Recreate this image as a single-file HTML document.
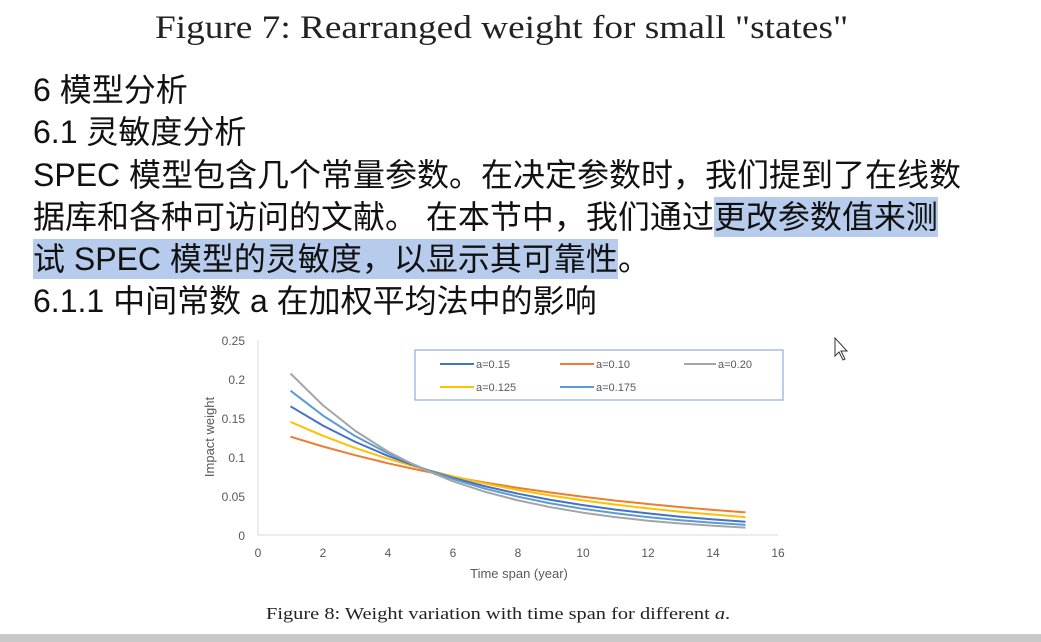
<!DOCTYPE html>
<html><head><meta charset="utf-8"><style>
body{margin:0;width:1041px;height:642px;background:#fff;overflow:hidden;position:relative;font-family:"Liberation Sans","Noto Sans CJK SC",sans-serif;}
.t{position:absolute;white-space:nowrap;}
.cn{font-size:32px;color:#111;left:33px;line-height:40px;}
.h{background:#b7cbec;padding:2px 0;}
</style></head><body>
<div class="t" style="left:155px;top:10px;font-family:'Liberation Serif',serif;font-size:33px;color:#222;transform:scaleX(1.13);transform-origin:0 0;">Figure 7: Rearranged weight for small "states"</div>
<div class="t cn" style="top:70px;">6 模型分析</div>
<div class="t cn" style="top:112px;">6.1 灵敏度分析</div>
<div class="t cn" style="top:155px;">SPEC 模型包含几个常量参数。在决定参数时，我们提到了在线数</div>
<div class="t cn" style="top:197px;">据库和各种可访问的文献。 在本节中，我们通过<span class="h">更改参数值来测</span></div>
<div class="t cn" style="top:239px;"><span class="h">试 SPEC 模型的灵敏度，以显示其可靠性</span>。</div>
<div class="t cn" style="top:281px;">6.1.1 中间常数 a 在加权平均法中的影响</div>
<svg width="1041" height="642" style="position:absolute;left:0;top:0" id="s" font-family="Liberation Sans, sans-serif">
<g stroke="#d9d9d9" stroke-width="1"><line x1="258" y1="340" x2="258" y2="535"/><line x1="258" y1="535" x2="778" y2="535"/></g>
<g font-size="12" fill="#595959" text-anchor="end">
<text x="245" y="345">0.25</text><text x="245" y="384">0.2</text><text x="245" y="423">0.15</text><text x="245" y="462">0.1</text><text x="245" y="501">0.05</text><text x="245" y="540">0</text></g>
<g font-size="12" fill="#595959" text-anchor="middle" id="xt"></g>
<text x="519" y="578" font-size="13" fill="#595959" text-anchor="middle">Time span (year)</text>
<text transform="translate(214,437) rotate(-90)" font-size="13" fill="#595959" text-anchor="middle">Impact weight</text>
<g id="cv" fill="none" stroke-width="2"></g>
<rect x="415" y="350" width="368" height="50" fill="#fff" stroke="#8faadc" stroke-width="1.2"/>
<g font-size="11" fill="#595959" stroke-width="2">
<line x1="440" y1="364" x2="474" y2="364" stroke="#4472c4"/><text x="476" y="368">a=0.15</text>
<line x1="560" y1="364" x2="594" y2="364" stroke="#ed7d31"/><text x="596" y="368">a=0.10</text>
<line x1="684" y1="364" x2="716" y2="364" stroke="#a5a5a5"/><text x="718" y="368">a=0.20</text>
<line x1="440" y1="387" x2="474" y2="387" stroke="#ffc000"/><text x="476" y="391">a=0.125</text>
<line x1="560" y1="387" x2="594" y2="387" stroke="#5b9bd5"/><text x="596" y="391">a=0.175</text>
</g>
<path d="M835 338 L835 356 L839 352 L843 360 L845 359 L841 351 L847 351 Z" fill="#fff" stroke="#333" stroke-width="1"/>
<text x="266" y="619" font-family="Liberation Serif, serif" font-size="17" fill="#222" transform="translate(266,0) scale(1.2,1) translate(-266,0)">Figure 8: Weight variation with time span for different <tspan font-style="italic">a</tspan>.</text>
<rect x="0" y="634" width="1041" height="8" fill="#c9c9c9"/>
</svg>
<script>
var xt=document.getElementById('xt'),s='';
for(var i=0;i<=16;i+=2){s+='<text x="'+(258+i*32.5)+'" y="557">'+i+'</text>';}
xt.innerHTML=s;
var cs=[[0.126,0.029,'#ed7d31'],[0.145,0.023,'#ffc000'],[0.165,0.017,'#4472c4'],[0.185,0.013,'#5b9bd5'],[0.207,0.0095,'#a5a5a5']];
var h='';
cs.forEach(function(c){var k=Math.log(c[0]/c[1])/14,d='';
for(var x=1;x<=15;x+=1){var y=c[0]*Math.exp(-k*(x-1));d+=(d?'L':'M')+(258+x*32.5).toFixed(1)+' '+(535-y*780).toFixed(1);}
h+='<path d="'+d+'" stroke="'+c[2]+'" stroke-linejoin="round"/>';});
document.getElementById('cv').innerHTML=h;
</script>
</body></html>
